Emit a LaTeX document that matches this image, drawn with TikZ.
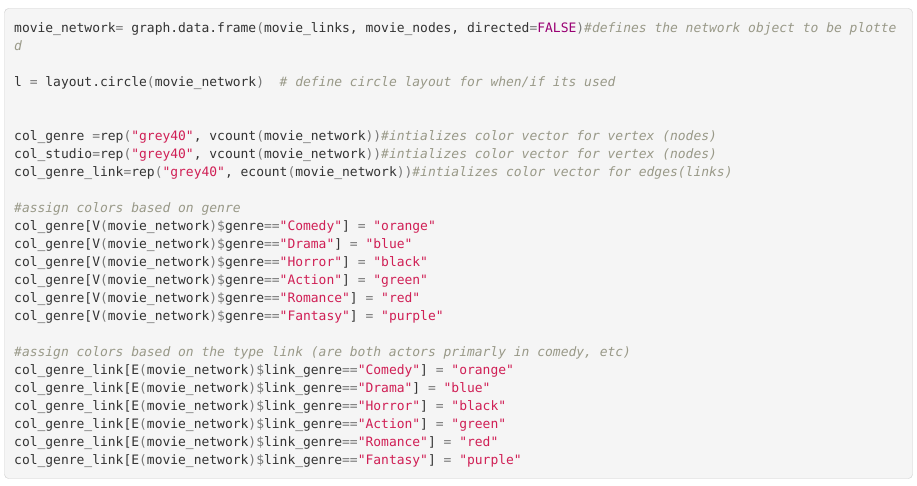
\documentclass[tikz,border=0pt]{standalone}
\usepackage{fontspec}
\setmonofont{DejaVu Sans Mono}[ItalicFont={DejaVu Sans Mono Oblique}]
\usepackage{tikz}

\definecolor{codebg}{HTML}{F5F5F5}
\definecolor{codeborder}{HTML}{CCCCCC}
\definecolor{codetext}{HTML}{333333}
\definecolor{codeop}{HTML}{777777}
\definecolor{codestring}{HTML}{D01F55}
\definecolor{codecomment}{HTML}{999988}
\definecolor{codekeyword}{HTML}{990073}

\newcommand{\codeop}[1]{\textcolor{codeop}{#1}}
\newcommand{\codestr}[1]{\textcolor{codestring}{#1}}
\newcommand{\codecmt}[1]{\textcolor{codecomment}{\itshape #1}}
\newcommand{\codekw}[1]{\textcolor{codekeyword}{#1}}

\tikzset{codeline/.style={anchor=base west,inner sep=0pt,text=codetext,
  font=\ttfamily\fontsize{12.97}{18}\selectfont}}

\begin{document}
\begin{tikzpicture}[x=1pt,y=-1pt]
\useasboundingbox (0,0) rectangle (917,486);
\draw[fill=codebg,draw=codeborder,rounded corners=4pt] (4.5,8.5) rectangle (912.5,478.5);
% network object and layout
\node[codeline] (line1) at (14,32.5) {movie\_network\codeop{=} graph.data.frame\codeop{(}movie\_links, movie\_nodes, directed\codeop{=}\codekw{FALSE}\codeop{)}\codecmt{\#defines the network object to be plotte}};
\node[codeline] (line2) at (14,50.5) {\codecmt{d}};
\node[codeline] (line4) at (14,86.5) {l \codeop{=} layout.circle\codeop{(}movie\_network\codeop{)}\ \ \codecmt{\#\ define circle layout for when/if its used}};
% colour vectors
\node[codeline] (line7) at (14,140.5) {col\_genre \codeop{=}rep\codeop{(}\codestr{"grey40"}, vcount\codeop{(}movie\_network\codeop{))}\codecmt{\#intializes color vector for vertex (nodes)}};
\node[codeline] (line8) at (14,158.5) {col\_studio\codeop{=}rep\codeop{(}\codestr{"grey40"}, vcount\codeop{(}movie\_network\codeop{))}\codecmt{\#intializes color vector for vertex (nodes)}};
\node[codeline] (line9) at (14,176.5) {col\_genre\_link\codeop{=}rep\codeop{(}\codestr{"grey40"}, ecount\codeop{(}movie\_network\codeop{))}\codecmt{\#intializes color vector for edges(links)}};
% colours by genre
\node[codeline] (line11) at (14,212.5) {\codecmt{\#assign colors based on genre}};
\node[codeline] (line12) at (14,230.5) {col\_genre[V\codeop{(}movie\_network\codeop{)\$}genre\codeop{==}\codestr{"Comedy"}] \codeop{=} \codestr{"orange"}};
\node[codeline] (line13) at (14,248.5) {col\_genre[V\codeop{(}movie\_network\codeop{)\$}genre\codeop{==}\codestr{"Drama"}] \codeop{=} \codestr{"blue"}};
\node[codeline] (line14) at (14,266.5) {col\_genre[V\codeop{(}movie\_network\codeop{)\$}genre\codeop{==}\codestr{"Horror"}] \codeop{=} \codestr{"black"}};
\node[codeline] (line15) at (14,284.5) {col\_genre[V\codeop{(}movie\_network\codeop{)\$}genre\codeop{==}\codestr{"Action"}] \codeop{=} \codestr{"green"}};
\node[codeline] (line16) at (14,302.5) {col\_genre[V\codeop{(}movie\_network\codeop{)\$}genre\codeop{==}\codestr{"Romance"}] \codeop{=} \codestr{"red"}};
\node[codeline] (line17) at (14,320.5) {col\_genre[V\codeop{(}movie\_network\codeop{)\$}genre\codeop{==}\codestr{"Fantasy"}] \codeop{=} \codestr{"purple"}};
% colours by link type
\node[codeline] (line19) at (14,356.5) {\codecmt{\#assign colors based on the type link (are both actors primarly in comedy, etc)}};
\node[codeline] (line20) at (14,374.5) {col\_genre\_link[E\codeop{(}movie\_network\codeop{)\$}link\_genre\codeop{==}\codestr{"Comedy"}] \codeop{=} \codestr{"orange"}};
\node[codeline] (line21) at (14,392.5) {col\_genre\_link[E\codeop{(}movie\_network\codeop{)\$}link\_genre\codeop{==}\codestr{"Drama"}] \codeop{=} \codestr{"blue"}};
\node[codeline] (line22) at (14,410.5) {col\_genre\_link[E\codeop{(}movie\_network\codeop{)\$}link\_genre\codeop{==}\codestr{"Horror"}] \codeop{=} \codestr{"black"}};
\node[codeline] (line23) at (14,428.5) {col\_genre\_link[E\codeop{(}movie\_network\codeop{)\$}link\_genre\codeop{==}\codestr{"Action"}] \codeop{=} \codestr{"green"}};
\node[codeline] (line24) at (14,446.5) {col\_genre\_link[E\codeop{(}movie\_network\codeop{)\$}link\_genre\codeop{==}\codestr{"Romance"}] \codeop{=} \codestr{"red"}};
\node[codeline] (line25) at (14,464.5) {col\_genre\_link[E\codeop{(}movie\_network\codeop{)\$}link\_genre\codeop{==}\codestr{"Fantasy"}] \codeop{=} \codestr{"purple"}};
\end{tikzpicture}
\end{document}
